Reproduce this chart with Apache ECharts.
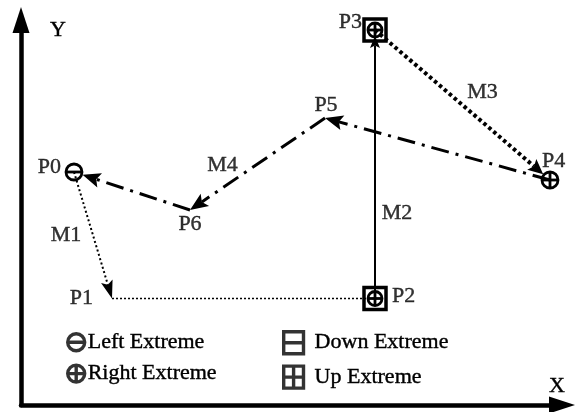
<!DOCTYPE html>
<html><head><meta charset="utf-8">
<script src="https://cdn.jsdelivr.net/npm/echarts@6/dist/echarts.min.js"></script>
<style>html,body{margin:0;padding:0;background:#fff}#c{width:578px;height:412px}</style>
</head><body><div id="c"></div>
<script>
// ---- data ----
const pointNames = ['P0', 'P1', 'P2', 'P3', 'P4', 'P5', 'P6'];
const pointX = [10.6, 18.2, 70.8, 70.8, 105.8, 60.8, 33.8];
const pointY = [46.6, 21.3, 21.3, 75.0, 45.0, 57.4, 39.0];
const pointKind = ['left', 'none', 'box', 'box', 'right', 'none', 'none'];
const moveNames = ['M1', '', 'M2', 'M3', 'M4'];
const movePaths = [[0, 1], [1, 2], [2, 3], [3, 4], [4, 5, 6, 0]];
const moveLabelSeg = [0, 0, 0, 0, 1];
const legendNames = ['Left Extreme', 'Right Extreme', 'Down Extreme', 'Up Extreme'];
const axisNames = ['X', 'Y'];

// ---- styles ----
const FONT = 'Liberation Serif';
const FS = 22;
const TXT = { color: '#000', fontFamily: FONT, fontSize: FS, textBorderColor: '#000', textBorderWidth: 0.4 };
const moveStyle = [
  { width: 2, dash: [2, 2.5], arrow: [18, 6] },
  { width: 1.5, dash: [2, 2], arrow: null },
  { width: 2, dash: null, arrow: [12, 5] },
  { width: 4, dash: [3.5, 3], arrow: [15, 7] },
  { width: 3, dash: [18, 7, 3, 7], arrow: [18, 7.5] }
];
const markerGap = { left: 9, right: 9, box: 6, none: 0 };
const pointLabelStyle = {
  P0: { offset: [-13, -5], align: 'right' },
  P1: { offset: [-19, 0], align: 'right' },
  P2: { offset: [17, -2], align: 'left' },
  P3: { offset: [-13, -8], align: 'right' },
  P4: { offset: [-8, -19], align: 'left' },
  P5: { offset: [1, -13], align: 'center' },
  P6: { offset: [0, 14], align: 'center' }
};
const moveLabelOffset = { M1: [-27, 0], M2: [22, 49], M3: [20, -13], M4: [-35, 1] };

function segData(path) {
  const out = [];
  for (let k = 0; k < path.length - 1; k++) {
    const a = path[k], b = path[k + 1];
    out.push([pointX[a], pointY[a], pointX[b], pointY[b], b]);
  }
  return out;
}

function moveSeries(m) {
  const st = moveStyle[m];
  return {
    type: 'custom', coordinateSystem: 'cartesian2d', silent: true, z: 3,
    data: segData(movePaths[m]),
    renderItem(params, api) {
      const a = api.coord([api.value(0), api.value(1)]);
      const b = api.coord([api.value(2), api.value(3)]);
      const dx = b[0] - a[0], dy = b[1] - a[1];
      const len = Math.hypot(dx, dy);
      const ux = dx / len, uy = dy / len;
      const lineStyle = { stroke: '#000', lineWidth: st.width, lineDash: st.dash || null, fill: null };
      const children = [];
      if (st.arrow) {
        const gap = markerGap[pointKind[api.value(4)]];
        const tip = [b[0] - ux * gap, b[1] - uy * gap];
        const L = st.arrow[0], W = st.arrow[1];
        const base = [tip[0] - ux * L, tip[1] - uy * L];
        const notch = [tip[0] - ux * L * 0.8, tip[1] - uy * L * 0.8];
        children.push({ type: 'line', shape: { x1: a[0], y1: a[1], x2: notch[0], y2: notch[1] }, style: lineStyle });
        children.push({ type: 'polygon', shape: { points: [tip, [base[0] - uy * W, base[1] + ux * W], notch, [base[0] + uy * W, base[1] - ux * W]] }, style: { fill: '#000' } });
      } else {
        children.push({ type: 'line', shape: { x1: a[0], y1: a[1], x2: b[0], y2: b[1] }, style: lineStyle });
      }
      return { type: 'group', children };
    }
  };
}

function markerShapes(kind, cx, cy) {
  const s = { stroke: '#000', fill: 'none', lineWidth: 2.8 };
  const c = [];
  if (kind === 'left' || kind === 'right') {
    const r = 8;
    c.push({ type: 'circle', shape: { cx, cy, r }, style: s });
    c.push({ type: 'line', shape: { x1: cx - r, y1: cy, x2: cx + r, y2: cy }, style: s });
    if (kind === 'right') c.push({ type: 'line', shape: { x1: cx, y1: cy - r, x2: cx, y2: cy + r }, style: s });
  } else if (kind === 'box') {
    const h = 11;
    c.push({ type: 'rect', shape: { x: cx - h, y: cy - h, width: 2 * h, height: 2 * h }, style: { stroke: '#000', fill: 'none', lineWidth: 3.5 } });
    const r = 7;
    c.push({ type: 'circle', shape: { cx, cy, r }, style: s });
    c.push({ type: 'line', shape: { x1: cx - r, y1: cy, x2: cx + r, y2: cy }, style: s });
    c.push({ type: 'line', shape: { x1: cx, y1: cy - r, x2: cx, y2: cy + r }, style: s });
  }
  return c;
}

const iconPaths = {
  'Left Extreme': 'path://M1,10A9,9,0,1,1,19,10A9,9,0,1,1,1,10ZM1,10L19,10',
  'Right Extreme': 'path://M1,10A9,9,0,1,1,19,10A9,9,0,1,1,1,10ZM1,10L19,10M10,1L10,19',
  'Down Extreme': 'path://M1,1L19,1L19,21L1,21ZM1,11L19,11',
  'Up Extreme': 'path://M1,1L19,1L19,21L1,21ZM1,11L19,11M10,1L10,21'
};
function legendItem(name) {
  return { name, icon: iconPaths[name], itemStyle: { color: 'transparent', borderColor: '#000', borderWidth: 3.4 } };
}

const series = [];
for (let m = 0; m < movePaths.length; m++) series.push(moveSeries(m));
series.push({
  type: 'custom', coordinateSystem: 'cartesian2d', silent: true, z: 4,
  data: pointNames.map((n, i) => [pointX[i], pointY[i], i]),
  renderItem(params, api) {
    const p = api.coord([api.value(0), api.value(1)]);
    return { type: 'group', children: markerShapes(pointKind[api.value(2)], p[0], p[1]) };
  }
});
series.push({
  type: 'scatter', silent: true, symbolSize: 0, z: 5,
  data: pointNames.map((n, i) => ({
    name: n, value: [pointX[i], pointY[i]],
    label: { show: true, position: 'inside', formatter: n, offset: pointLabelStyle[n].offset, align: pointLabelStyle[n].align }
  })),
  label: Object.assign({ show: true }, TXT)
});
series.push({
  type: 'scatter', silent: true, symbolSize: 0, z: 5,
  data: moveNames.map((n, m) => {
    if (!n) return null;
    const path = movePaths[m], k = moveLabelSeg[m];
    const a = path[k], b = path[k + 1];
    return {
      name: n, value: [(pointX[a] + pointX[b]) / 2, (pointY[a] + pointY[b]) / 2],
      label: { show: true, position: 'inside', formatter: n, offset: moveLabelOffset[n], align: 'center' }
    };
  }).filter(Boolean),
  label: Object.assign({ show: true }, TXT)
});
legendNames.forEach(n => series.push({ type: 'scatter', name: n, data: [], symbol: iconPaths[n] }));

const axisCommon = {
  type: 'value', axisTick: { show: false }, axisLabel: { show: false }, splitLine: { show: false }
};

const option = {
  animation: false,
  backgroundColor: '#fff',
  grid: { left: 21, right: 16, top: 20, bottom: 7 },
  xAxis: Object.assign({}, axisCommon, {
    min: 0, max: 108.2, name: axisNames[0], nameLocation: 'end', nameGap: -5,
    axisLine: { show: true, onZero: false, symbol: ['none', 'triangle'], symbolSize: [17, 26], lineStyle: { color: '#000', width: 4.5 } },
    nameTextStyle: Object.assign({}, TXT, { align: 'center', verticalAlign: 'bottom', padding: [0, 0, 8, 0] })
  }),
  yAxis: Object.assign({}, axisCommon, {
    min: 0, max: 77, name: axisNames[1], nameLocation: 'end', nameGap: -10,
    axisLine: { show: true, onZero: false, symbol: ['none', 'triangle'], symbolSize: [17, 26], lineStyle: { color: '#000', width: 4.5 } },
    nameTextStyle: Object.assign({}, TXT, { align: 'left', verticalAlign: 'middle', padding: [0, 0, 0, 29] })
  }),
  legend: [
    {
      left: 66, top: 331, orient: 'vertical', padding: 0, itemGap: 9, itemWidth: 17, itemHeight: 17, selectedMode: false,
      data: legendNames.slice(0, 2).map(legendItem),
      textStyle: Object.assign({}, TXT, { padding: [0, 0, 0, -2] })
    },
    {
      left: 282, top: 330, orient: 'vertical', padding: 0, itemGap: 9, itemWidth: 20, itemHeight: 22, selectedMode: false,
      data: legendNames.slice(2).map(legendItem),
      textStyle: Object.assign({}, TXT, { padding: [0, 0, 0, 6] })
    }
  ],
  series
};
const chart = echarts.init(document.getElementById('c'));
chart.setOption(option);
</script>
</body></html>
